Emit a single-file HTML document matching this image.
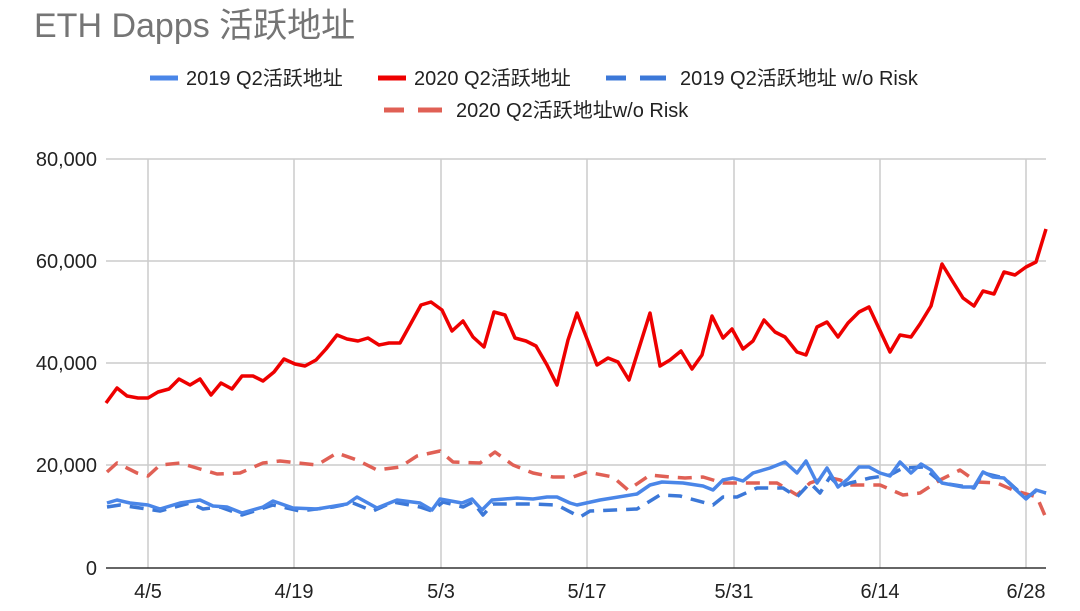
<!DOCTYPE html>
<html><head><meta charset="utf-8"><style>
body{margin:0;background:#fff;width:1080px;height:606px;overflow:hidden}
</style></head><body>
<svg width="1080" height="606" xmlns="http://www.w3.org/2000/svg" font-family="'Liberation Sans','Noto Sans CJK SC',sans-serif">
<text x="34" y="37" font-size="34" fill="#757575">ETH Dapps 活跃地址</text>
<g font-size="20" fill="#222">
<line x1="150" y1="78" x2="178" y2="78" stroke="#4a86e8" stroke-width="5"/><text x="186" y="85">2019 Q2活跃地址</text>
<line x1="378" y1="78" x2="406" y2="78" stroke="#ee0000" stroke-width="5"/><text x="414" y="85">2020 Q2活跃地址</text>
<line x1="606" y1="78" x2="626" y2="78" stroke="#3c78d8" stroke-width="5"/><line x1="640" y1="78" x2="666" y2="78" stroke="#3c78d8" stroke-width="5"/><text x="680" y="85">2019 Q2活跃地址 w/o Risk</text>
<line x1="384" y1="110" x2="404" y2="110" stroke="#e06055" stroke-width="5"/><line x1="418" y1="110" x2="442" y2="110" stroke="#e06055" stroke-width="5"/><text x="456" y="117">2020 Q2活跃地址w/o Risk</text>
</g>
<g stroke="#ccc" stroke-width="1.5">
<line x1="106" y1="159" x2="1046" y2="159"/><line x1="106" y1="261" x2="1046" y2="261"/><line x1="106" y1="363" x2="1046" y2="363"/><line x1="106" y1="465" x2="1046" y2="465"/>
<line x1="148" y1="159" x2="148" y2="568"/><line x1="294" y1="159" x2="294" y2="568"/><line x1="441" y1="159" x2="441" y2="568"/><line x1="587" y1="159" x2="587" y2="568"/><line x1="734" y1="159" x2="734" y2="568"/><line x1="880" y1="159" x2="880" y2="568"/><line x1="1026" y1="159" x2="1026" y2="568"/>
</g>
<line x1="106" y1="568" x2="1046" y2="568" stroke="#333" stroke-width="1.5"/>
<g font-size="20" fill="#222" text-anchor="end">
<text x="97" y="166">80,000</text><text x="97" y="268">60,000</text><text x="97" y="370">40,000</text><text x="97" y="472">20,000</text><text x="97" y="575">0</text>
</g>
<g font-size="20" fill="#222" text-anchor="middle">
<text x="148" y="598">4/5</text><text x="294" y="598">4/19</text><text x="441" y="598">5/3</text><text x="587" y="598">5/17</text><text x="734" y="598">5/31</text><text x="880" y="598">6/14</text><text x="1026" y="598">6/28</text>
</g>
<g fill="none" stroke-width="3.5" stroke-linejoin="round">
<polyline stroke="#e06055" stroke-dasharray="14,9" points="107,472 117,463 137,473 148,476 160,465 180,463 200,469 217,474 240,473 263,463 280,461 317,465 337,453 357,460 377,470 400,467 417,456 440,451 453,462 480,463 495,452 513,465 533,473 553,477 573,477 587,472 613,477 628,490 650,475 670,477 685,478 703,477 723,483 743,483 757,483 777,483 797,495 810,483 827,477 840,480 850,485 880,485 903,495 920,493 940,480 960,470 977,482 997,483 1013,490 1030,495 1037,497 1046,518"/>
<polyline stroke="#3c78d8" stroke-dasharray="14,9" points="107,507 120,505 140,508 160,511 190,503 203,509 220,507 242,515 273,505 300,511 333,507 353,503 373,511 393,502 420,507 432,511 443,502 463,507 473,502 483,515 493,504 533,504 557,505 580,517 590,511 637,509 660,495 680,496 713,505 723,497 737,497 757,488 783,488 797,497 810,483 820,493 830,477 840,487 850,483 870,478 890,475 903,468 923,467 942,483 974,488 983,473 1004,478 1026,498 1036,491 1046,493"/>
<polyline stroke="#4a86e8" points="107,503 117,500 130,503 148,505 160,509 180,503 200,500 213,506 227,507 242,513 263,507 273,501 293,508 317,509 347,504 357,497 377,508 397,500 420,503 432,510 440,499 462,503 472,499 482,510 492,500 517,498 533,499 547,497 557,497 570,503 577,505 600,500 637,494 650,485 662,482 683,483 703,486 713,490 723,480 733,478 743,481 753,473 770,468 785,462 797,473 806,461 817,483 827,468 838,487 848,479 859,467 869,467 880,473 890,476 900,462 911,473 921,464 931,470 942,483 963,487 974,487 983,472 993,477 1004,478 1015,489 1026,499 1036,490 1046,493"/>
<polyline stroke="#ee0000" points="106,403 117,388 127,396 138,398 148,398 158,392 169,389 179,379 190,385 200,379 211,395 221,383 232,389 242,376 253,376 263,381 274,372 284,359 295,364 305,366 316,360 326,349 337,335 347,339 358,341 368,338 379,345 389,343 400,343 410,325 421,305 431,302 442,310 452,331 463,321 473,337 484,347 494,312 505,315 515,338 526,341 536,346 547,365 557,385 568,340 577,313 597,365 608,358 618,362 629,380 650,313 660,366 670,360 681,351 692,369 702,355 712,316 723,338 732,329 743,349 753,341 764,320 775,332 785,337 797,352 806,355 817,327 827,322 838,337 848,323 859,312 869,307 890,352 900,335 911,337 920,324 931,306 942,264 953,282 963,298 974,306 983,291 994,294 1004,272 1015,275 1026,267 1036,262 1046,229"/>
</g>
</svg>
</body></html>
